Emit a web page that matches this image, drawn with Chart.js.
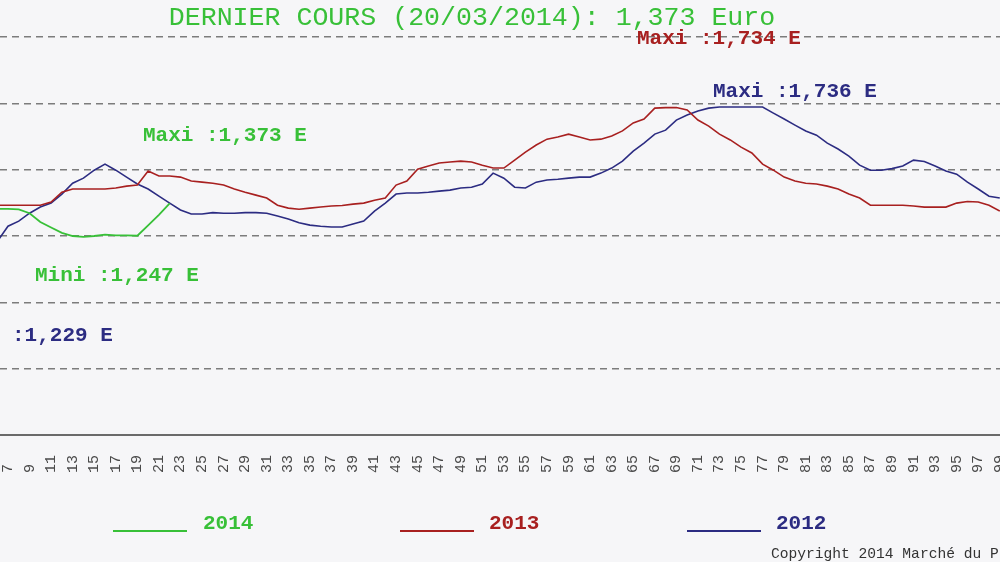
<!DOCTYPE html>
<html><head><meta charset="utf-8">
<script src="https://cdn.jsdelivr.net/npm/chart.js@4/dist/chart.umd.min.js"></script>
<style>html,body{margin:0;padding:0;background:#f6f6f8;overflow:hidden}canvas{display:block}</style>
</head><body><canvas id="c" width="1000" height="562"></canvas>
<script>
const weeks=[6,7,8,9,10,11,12,13,14,15,16,17,18,19,20,21,22,23,24,25,26,27,28,29,30,31,32,33,34,35,36,37,38,39,40,41,42,43,44,45,46,47,48,49,50,51,52,53,54,55,56,57,58,59,60,61,62,63,64,65,66,67,68,69,70,71,72,73,74,75,76,77,78,79,80,81,82,83,84,85,86,87,88,89,90,91,92,93,94,95,96,97,98,99];
const tickWeeks=[7,9,11,13,15,17,19,21,23,25,27,29,31,33,35,37,39,41,43,45,47,49,51,53,55,57,59,61,63,65,67,69,71,73,75,77,79,81,83,85,87,89,91,93,95,97,99];
const values2014=[1.352,1.352,1.350,1.336,1.303,1.282,1.262,1.250,1.247,1.250,1.255,1.252,1.252,1.251,1.290,1.330,1.373];
const values2013=[1.366,1.366,1.366,1.366,1.366,1.378,1.415,1.427,1.427,1.427,
1.427,1.431,1.438,1.442,1.495,1.476,1.476,1.472,1.457,1.453,
1.449,1.442,1.427,1.415,1.404,1.393,1.366,1.355,1.351,1.355,
1.359,1.363,1.365,1.370,1.374,1.385,1.393,1.442,1.457,1.502,
1.514,1.525,1.529,1.532,1.529,1.517,1.506,1.506,1.536,1.566,
1.593,1.615,1.623,1.634,1.623,1.612,1.615,1.627,1.646,1.676,
1.691,1.732,1.734,1.734,1.725,1.687,1.664,1.634,1.612,1.585,
1.563,1.521,1.498,1.472,1.457,1.449,1.446,1.438,1.427,1.408,
1.393,1.366,1.366,1.366,1.366,1.363,1.359,1.359,1.359,1.374,
1.380,1.378,1.366,1.344];
const values2012=[1.229,1.287,1.306,1.336,1.359,1.374,1.408,1.449,1.468,1.498,
1.521,1.498,1.472,1.446,1.427,1.400,1.374,1.348,1.333,1.333,
1.338,1.336,1.336,1.338,1.338,1.336,1.325,1.314,1.300,1.291,
1.287,1.284,1.284,1.295,1.306,1.344,1.374,1.408,1.412,1.412,
1.415,1.419,1.423,1.431,1.434,1.446,1.487,1.468,1.434,1.431,
1.453,1.461,1.464,1.468,1.472,1.472,1.487,1.506,1.532,1.570,
1.600,1.634,1.649,1.687,1.706,1.721,1.732,1.736,1.736,1.736,
1.736,1.736,1.713,1.691,1.668,1.646,1.630,1.600,1.578,1.551,
1.517,1.498,1.498,1.504,1.514,1.536,1.531,1.514,1.495,1.483,
1.453,1.427,1.400,1.393];
const seriesNames=['2014','2013','2012'];
const seriesColors=['#38c038','#a82020','#2c2c82'];
const titleText='DERNIER COURS (20/03/2014): 1,373 Euro';
const noteTexts=['Maxi :1,734 E','Maxi :1,736 E','Maxi :1,373 E','Mini :1,247 E','Mini :1,229 E'];
const copyrightText='Copyright 2014 Marché du P';

function pts(vals){return vals.map((v,i)=>({x:weeks[i],y:v}));}

const overlay={
  id:'overlay',
  beforeDraw(chart){const c=chart.ctx;c.save();c.fillStyle='#f6f6f8';c.fillRect(0,0,chart.width,chart.height);c.restore();},
  afterDraw(chart){
    const c=chart.ctx;c.save();
    c.textBaseline='middle';
    c.font='26.6px "Liberation Mono", monospace';c.fillStyle='#38c038';c.textAlign='center';
    c.fillText(titleText,472,18);
    c.textAlign='left';c.font='bold 21px "Liberation Mono", monospace';
    const notes=[[noteTexts[0],637,39,seriesColors[1]],[noteTexts[1],713,92,seriesColors[2]],[noteTexts[2],143,136,seriesColors[0]],[noteTexts[3],35,276,seriesColors[0]],[noteTexts[4],-51,336,seriesColors[2]]];
    notes.forEach(n=>{c.fillStyle=n[3];c.fillText(n[0],n[1],n[2]);});
    const leg=[[113,203],[400,489],[687,776]];
    leg.forEach((l,i)=>{c.strokeStyle=seriesColors[i];c.lineWidth=2;c.beginPath();c.moveTo(l[0],531);c.lineTo(l[0]+74,531);c.stroke();
      c.fillStyle=seriesColors[i];c.fillText(seriesNames[i],l[1],524);});
    c.font='14.6px "Liberation Mono", monospace';c.fillStyle='#333';
    c.fillText(copyrightText,771,554);
    c.restore();
  }
};

new Chart(document.getElementById('c'),{
  type:'line',
  data:{datasets:[
    {label:seriesNames[0],data:pts(values2014),borderColor:seriesColors[0],borderWidth:1.8,pointRadius:0,tension:0},
    {label:seriesNames[1],data:pts(values2013),borderColor:seriesColors[1],borderWidth:1.6,pointRadius:0,tension:0},
    {label:seriesNames[2],data:pts(values2012),borderColor:seriesColors[2],borderWidth:1.6,pointRadius:0,tension:0}
  ]},
  options:{
    responsive:false,animation:false,devicePixelRatio:1,
    layout:{padding:{top:37,left:0,right:0,bottom:0}},
    plugins:{legend:{display:false},tooltip:{enabled:false},title:{display:false}},
    scales:{
      x:{type:'linear',min:6.26,max:99.02,
        grid:{display:false,drawTicks:false},
        border:{display:true,color:'#6a6a6a',width:2},
        afterBuildTicks(s){s.ticks=tickWeeks.map(v=>({value:v}));},
        afterFit(s){s.height=127;s.paddingLeft=0;s.paddingRight=0;},
        ticks:{autoSkip:false,maxRotation:90,minRotation:90,padding:20,color:'#4a4a4a',
          font:{family:'"Liberation Mono", monospace',size:15},
          callback:v=>(String(v).length<2?String(v)+' ':String(v))}
      },
      y:{min:0.5,max:2.0,
        ticks:{display:false,stepSize:0.25},
        afterFit(s){s.width=0;},
        border:{display:false,dash:[7,5]},
        grid:{drawTicks:false,lineWidth:1.5,color:ctx=>(ctx.tick&&ctx.tick.value===0.5?'rgba(0,0,0,0)':'#7c7c7c')}
      }
    }
  },
  plugins:[overlay]
});
</script></body></html>
